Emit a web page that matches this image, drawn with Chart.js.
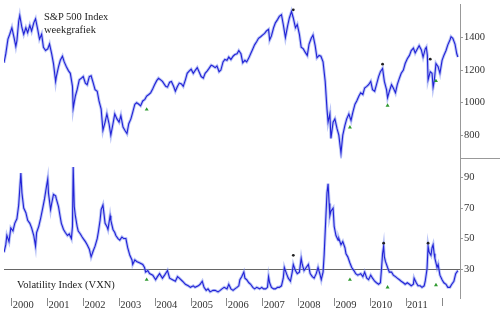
<!DOCTYPE html>
<html>
<head>
<meta charset="utf-8">
<script src="https://cdn.jsdelivr.net/npm/chart.js@4/dist/chart.umd.min.js"></script>
<style>
  body { margin: 0; background: #fff; }
  #wrap { position: relative; width: 500px; height: 312px; }
  .note { position: absolute; font-family: 'Liberation Serif', 'Times New Roman', serif; font-size: 10.5px; line-height: 13px; color: #222; white-space: nowrap; }
</style>
</head>
<body>
<div id="wrap">
  <canvas id="chart" width="500" height="312"></canvas>
  <div class="note" style="left:44px; top:10px;">S&amp;P 500 Index<br>weekgrafiek</div>
  <div class="note" style="left:17px; top:278px;">Volatility Index (VXN)</div>
</div>
<script>
// S&P 500, weekly (decimal years)
const spxDates = [
  1999.78, 1999.83, 1999.89, 1999.94,
  2000.00, 2000.06, 2000.11, 2000.14, 2000.19, 2000.22, 2000.28, 2000.33, 2000.39, 2000.44, 2000.50, 2000.55, 2000.61, 2000.66, 2000.72, 2000.77, 2000.83, 2000.88, 2000.94,
  2001.00, 2001.05, 2001.11, 2001.16, 2001.22, 2001.24, 2001.30, 2001.35, 2001.41, 2001.46, 2001.52, 2001.58, 2001.63, 2001.69, 2001.71, 2001.77, 2001.82, 2001.88, 2001.94, 2001.99,
  2002.05, 2002.10, 2002.16, 2002.21, 2002.27, 2002.32, 2002.38, 2002.43, 2002.49, 2002.54, 2002.60, 2002.65, 2002.71, 2002.76, 2002.82, 2002.87, 2002.93, 2002.99,
  2003.04, 2003.10, 2003.15, 2003.21, 2003.26, 2003.32, 2003.37, 2003.43, 2003.48, 2003.54, 2003.59, 2003.65, 2003.71, 2003.76, 2003.82, 2003.87, 2003.93, 2003.98,
  2004.04, 2004.09, 2004.15, 2004.20, 2004.29, 2004.34, 2004.40, 2004.45, 2004.51, 2004.56, 2004.62, 2004.67, 2004.73, 2004.78, 2004.84, 2004.89, 2004.95,
  2005.00, 2005.06, 2005.12, 2005.17, 2005.23, 2005.28, 2005.34, 2005.39, 2005.45, 2005.50, 2005.56, 2005.61, 2005.67, 2005.72, 2005.78, 2005.83, 2005.89, 2005.94,
  2006.00, 2006.05, 2006.11, 2006.17, 2006.22, 2006.28, 2006.33, 2006.39, 2006.44, 2006.50, 2006.55, 2006.61, 2006.66, 2006.72, 2006.77, 2006.83, 2006.88, 2006.94, 2006.99,
  2007.05, 2007.10, 2007.16, 2007.19, 2007.24, 2007.30, 2007.35, 2007.41, 2007.46, 2007.52, 2007.57, 2007.63, 2007.69, 2007.74, 2007.80, 2007.85, 2007.91, 2007.96,
  2008.02, 2008.07, 2008.13, 2008.18, 2008.24, 2008.29, 2008.35, 2008.40, 2008.46, 2008.51, 2008.57, 2008.62, 2008.68, 2008.74, 2008.79, 2008.82, 2008.87, 2008.90, 2008.96,
  2009.01, 2009.07, 2009.12, 2009.18, 2009.23, 2009.29, 2009.34, 2009.40, 2009.46, 2009.51, 2009.57, 2009.62, 2009.68, 2009.73, 2009.79, 2009.84, 2009.90, 2009.95,
  2010.01, 2010.06, 2010.12, 2010.17, 2010.23, 2010.28, 2010.34, 2010.39, 2010.45, 2010.48, 2010.53, 2010.59, 2010.64, 2010.70, 2010.75, 2010.81, 2010.86, 2010.92, 2010.97,
  2011.03, 2011.09, 2011.14, 2011.20, 2011.25, 2011.31, 2011.36, 2011.42, 2011.47, 2011.53, 2011.56, 2011.59, 2011.61, 2011.67, 2011.72, 2011.75, 2011.78, 2011.83, 2011.89, 2011.94,
  2012.00, 2012.05, 2012.11, 2012.16, 2012.22, 2012.25, 2012.30, 2012.36, 2012.41, 2012.44
];
const spxValues = [
  1245, 1300, 1390, 1420,
  1460, 1400, 1345, 1380, 1500, 1535, 1460, 1420, 1460, 1430, 1475, 1440, 1490, 1515, 1450, 1390, 1420, 1340, 1320,
  1330, 1360, 1300, 1240, 1130, 1160, 1220, 1260, 1285, 1250, 1220, 1195, 1180, 1100, 965, 1040, 1080, 1140, 1150, 1160,
  1120, 1110, 1160, 1165, 1120, 1080, 1070, 1010, 960, 830, 880, 930, 870, 800, 870, 930, 900, 880,
  920, 850, 830, 810, 870, 900, 940, 990, 1000, 990, 980, 1010, 1020, 1040, 1050, 1060, 1085, 1110,
  1135, 1150, 1140, 1130, 1100, 1095, 1125, 1130, 1100, 1070, 1100, 1120, 1115, 1100, 1140, 1180, 1195,
  1205, 1180, 1200, 1215, 1185, 1160, 1150, 1180, 1195, 1210, 1230, 1225, 1215, 1225, 1190, 1200, 1250, 1265,
  1260, 1280, 1265, 1285, 1295, 1300, 1320, 1300, 1245, 1260, 1250, 1275, 1300, 1330, 1355, 1375, 1395, 1405, 1415,
  1425, 1440, 1450, 1385, 1410, 1460, 1490, 1510, 1530, 1540, 1480, 1400, 1470, 1520, 1560, 1520, 1460, 1480,
  1420, 1340, 1330, 1310, 1290, 1360, 1395, 1415, 1350, 1275, 1290, 1285, 1250, 1130, 960, 880, 930, 780, 880,
  900, 840, 800, 690, 800, 860, 900, 930, 890, 940, 990, 1010, 1040, 1060, 1050, 1090, 1100, 1110,
  1130, 1080, 1070, 1110, 1160, 1190, 1210, 1130, 1080, 1030, 1070, 1110, 1090, 1060, 1110, 1150, 1180, 1200, 1240,
  1270, 1290, 1320, 1335, 1305, 1330, 1350, 1325, 1280, 1330, 1340, 1290, 1140, 1190, 1180, 1095, 1130, 1240, 1220, 1180,
  1260, 1290, 1320, 1355, 1385, 1405, 1395, 1360, 1300, 1280
];

// Volatility Index (VXN), weekly
const vxnDates = [
  1999.78, 1999.83, 1999.86, 1999.92, 1999.97,
  2000.03, 2000.08, 2000.14, 2000.19, 2000.25, 2000.28, 2000.33, 2000.39, 2000.44, 2000.50, 2000.55, 2000.61, 2000.66, 2000.69, 2000.75, 2000.80, 2000.86, 2000.91, 2000.97,
  2001.00, 2001.02, 2001.08, 2001.11, 2001.16, 2001.22, 2001.24, 2001.30, 2001.35, 2001.38, 2001.44, 2001.49, 2001.55, 2001.60, 2001.66, 2001.69, 2001.71, 2001.74, 2001.77, 2001.82, 2001.85, 2001.91, 2001.96, 2001.99,
  2002.05, 2002.10, 2002.16, 2002.21, 2002.27, 2002.32, 2002.38, 2002.41, 2002.46, 2002.49, 2002.54, 2002.57, 2002.60, 2002.65, 2002.68, 2002.74, 2002.76, 2002.82, 2002.87, 2002.90, 2002.96,
  2003.01, 2003.07, 2003.12, 2003.18, 2003.23, 2003.29, 2003.35, 2003.37, 2003.43, 2003.48, 2003.57, 2003.65, 2003.70, 2003.73, 2003.79, 2003.84, 2003.93,
  2004.01, 2004.06, 2004.12, 2004.20, 2004.26, 2004.34, 2004.40, 2004.48, 2004.56, 2004.62, 2004.67, 2004.76, 2004.84, 2004.92, 2004.98,
  2005.06, 2005.11, 2005.20, 2005.25, 2005.31, 2005.36, 2005.42, 2005.47, 2005.53, 2005.61, 2005.67, 2005.75, 2005.81, 2005.86, 2005.92,
  2006.00, 2006.05, 2006.11, 2006.17, 2006.22, 2006.28, 2006.33, 2006.36, 2006.41, 2006.47, 2006.50, 2006.55, 2006.61, 2006.66, 2006.72, 2006.77, 2006.83, 2006.91, 2006.97,
  2007.02, 2007.08, 2007.13, 2007.16, 2007.19, 2007.24, 2007.30, 2007.35, 2007.41, 2007.46, 2007.52, 2007.57, 2007.60, 2007.66, 2007.71, 2007.77, 2007.82, 2007.85, 2007.91, 2007.96,
  2008.02, 2008.07, 2008.10, 2008.15, 2008.21, 2008.27, 2008.32, 2008.38, 2008.43, 2008.49, 2008.54, 2008.60, 2008.63, 2008.68, 2008.71, 2008.76, 2008.79, 2008.82, 2008.85, 2008.87, 2008.90, 2008.96, 2008.99,
  2009.04, 2009.10, 2009.12, 2009.18, 2009.23, 2009.29, 2009.32, 2009.37, 2009.43, 2009.48, 2009.54, 2009.59, 2009.65, 2009.73, 2009.79, 2009.84, 2009.90, 2009.95,
  2010.01, 2010.06, 2010.12, 2010.17, 2010.23, 2010.28, 2010.31, 2010.34, 2010.37, 2010.39, 2010.42, 2010.48, 2010.53, 2010.59, 2010.64, 2010.70, 2010.75, 2010.81, 2010.86, 2010.92, 2010.97,
  2011.03, 2011.09, 2011.14, 2011.20, 2011.22, 2011.28, 2011.33, 2011.39, 2011.44, 2011.50, 2011.53, 2011.58, 2011.61, 2011.64, 2011.69, 2011.72, 2011.75, 2011.78, 2011.80, 2011.83, 2011.86, 2011.89, 2011.94,
  2012.00, 2012.05, 2012.11, 2012.16, 2012.22, 2012.27, 2012.33, 2012.38, 2012.44
];
const vxnValues = [
  41, 46, 52, 48, 57,
  55, 60, 63, 72, 93, 80, 70, 67, 62, 60, 57, 52, 45, 54, 58, 63, 70, 76, 85,
  89, 80, 69, 73, 79, 78, 76, 71, 64, 60, 56, 54, 52, 53, 50, 58, 97, 71, 65, 58, 55, 53, 51, 50,
  48, 46, 43, 38, 42, 45, 50, 54, 62, 69, 72, 66, 60, 58, 56, 65, 62, 56, 54, 52, 50,
  49, 51, 50, 50, 44, 39, 36, 33, 36, 35, 34, 33, 31, 28, 29, 27, 26,
  23, 25, 27, 24, 26, 29, 24, 23, 22, 25, 24, 22, 20, 19, 18,
  19, 18, 19, 20, 22, 18, 16, 17, 15, 16, 16, 15, 16, 17, 18,
  17, 20, 17, 16, 17, 18, 19, 23, 25, 28, 24, 23, 21, 20, 18, 17, 18, 17, 18,
  17, 17, 18, 25, 21, 18, 17, 17, 18, 18, 19, 24, 31, 27, 24, 22, 28, 33, 29, 27,
  28, 37, 33, 29, 31, 33, 27, 25, 24, 27, 31, 26, 23, 28, 39, 65, 80, 86, 73, 65, 68, 70, 58,
  52, 49, 50, 46, 48, 44, 40, 38, 34, 31, 29, 27, 26, 27, 25, 28, 24, 23,
  26, 24, 22, 21, 20, 21, 30, 40, 45, 38, 35, 31, 28, 28, 26, 25, 24, 23, 22, 21, 20,
  21, 20, 19, 20, 24, 21, 19, 19, 18, 19, 22, 30, 45, 41, 39, 44, 46, 40, 37, 34, 31, 33, 26,
  23, 21, 20, 18, 18, 20, 22, 27, 29
];

// signals: green arrows (buy) and black dots (top)
const buyDates = [2003.76, 2009.43, 2010.48, 2011.83];
const spxBuyLevels = [958, 848, 982, 1133];
const vxnBuyLevels = [23, 23, 18, 19.5];
const spxTopDates = [2007.85, 2010.34, 2011.67];
const spxTopLevels = [1570, 1236, 1267];
const vxnTopDates = [2007.85, 2010.37, 2011.61];
const vxnTopLevels = [39, 47, 47];

// axes
const yearTicks = [2000, 2001, 2002, 2003, 2004, 2005, 2006, 2007, 2008, 2009, 2010, 2011, 2012];
const spxTicks = [800, 1000, 1200, 1400];
const vxnTicks = [30, 50, 70, 90];
const vxnLevel = 30;

const pairs = (xs, ys) => xs.map((x, i) => ({ x: x, y: ys[i] }));
const FONT = { family: "'Liberation Serif', 'Times New Roman', serif", size: 10.5 };

// lijn rechts tussen de twee panelen
const panelDivider = {
  id: 'panelDivider',
  afterDraw(chart) {
    const { ctx, chartArea, scales } = chart;
    const y = Math.round(scales.ySP.bottom) + 0.5;
    ctx.save();
    ctx.strokeStyle = '#999';
    ctx.lineWidth = 1;
    ctx.beginPath();
    ctx.moveTo(chartArea.right, y);
    ctx.lineTo(chart.width, y);
    ctx.stroke();
    ctx.restore();
  }
};

const lineSet = (data, axis, color, width, order) => ({
  data: data, yAxisID: axis, borderColor: color, borderWidth: width,
  pointRadius: 0, tension: 0, order: order
});

// rechteras: vaste breedte, geen extra ruimte boven/onder
const fitRight = s => { s.width = 40; s.paddingTop = 0; s.paddingBottom = 0; };

new Chart(document.getElementById('chart'), {
  type: 'line',
  data: {
    datasets: [
      { type: 'scatter', data: pairs(buyDates, spxBuyLevels), yAxisID: 'ySP', pointStyle: 'triangle', pointRadius: 2.3, backgroundColor: '#2f9a2f', borderWidth: 0, order: 0 },
      { type: 'scatter', data: pairs(buyDates, vxnBuyLevels), yAxisID: 'yVX', pointStyle: 'triangle', pointRadius: 2.3, backgroundColor: '#2f9a2f', borderWidth: 0, order: 0 },
      { type: 'scatter', data: pairs(spxTopDates, spxTopLevels), yAxisID: 'ySP', pointRadius: 1.4, backgroundColor: '#222', borderWidth: 0, order: 0 },
      { type: 'scatter', data: pairs(vxnTopDates, vxnTopLevels), yAxisID: 'yVX', pointRadius: 1.4, backgroundColor: '#222', borderWidth: 0, order: 0 },
      lineSet(pairs(spxDates, spxValues), 'ySP', '#2222d6', 1.1, 1),
      lineSet(pairs(vxnDates, vxnValues), 'yVX', '#2222d6', 1.1, 1),
      lineSet(pairs(spxDates, spxValues), 'ySP', 'rgba(120,140,240,0.5)', 3, 2),
      lineSet(pairs(vxnDates, vxnValues), 'yVX', 'rgba(120,140,240,0.5)', 3, 2)
    ]
  },
  options: {
    responsive: false,
    animation: false,
    layout: { padding: 0 },
    plugins: { legend: { display: false }, tooltip: { enabled: false } },
    scales: {
      x: {
        type: 'linear', position: 'bottom', min: 1999.78, max: 2012.5,
        afterBuildTicks: s => { s.ticks = yearTicks.map(v => ({ value: v })); },
        afterFit: s => { s.height = 14; s.paddingLeft = 0; s.paddingRight = 0; },
        ticks: { align: 'start', padding: -7, autoSkip: false, maxRotation: 0, font: FONT, color: '#333',
                 callback: v => v < 2012 ? '\u200A' + v : '' },
        grid: { drawOnChartArea: false, tickLength: 8, color: '#888' },
        border: { display: false }
      },
      ySP: {
        type: 'linear', position: 'right', stack: 'panels', stackWeight: 156.5, min: 657, max: 1606,
        afterBuildTicks: s => { s.ticks = spxTicks.map(v => ({ value: v })); },
        afterFit: fitRight,
        ticks: { padding: 1, font: FONT, color: '#333', callback: v => String(v) },
        grid: { drawOnChartArea: false, tickLength: 3, color: '#999' },
        border: { color: '#999' }
      },
      yVX: {
        type: 'linear', position: 'right', stack: 'panels', stackWeight: 141.5, min: 11, max: 102.6,
        afterBuildTicks: s => { s.ticks = vxnTicks.map(v => ({ value: v })); },
        afterFit: fitRight,
        ticks: { padding: 1, font: FONT, color: '#333', callback: v => String(v) },
        grid: { tickLength: 3, tickColor: '#999',
                color: c => (c.tick && c.tick.value === vxnLevel) ? '#666' : 'rgba(0,0,0,0)' },
        border: { color: '#999' }
      }
    }
  },
  plugins: [panelDivider]
});
</script>
</body>
</html>
